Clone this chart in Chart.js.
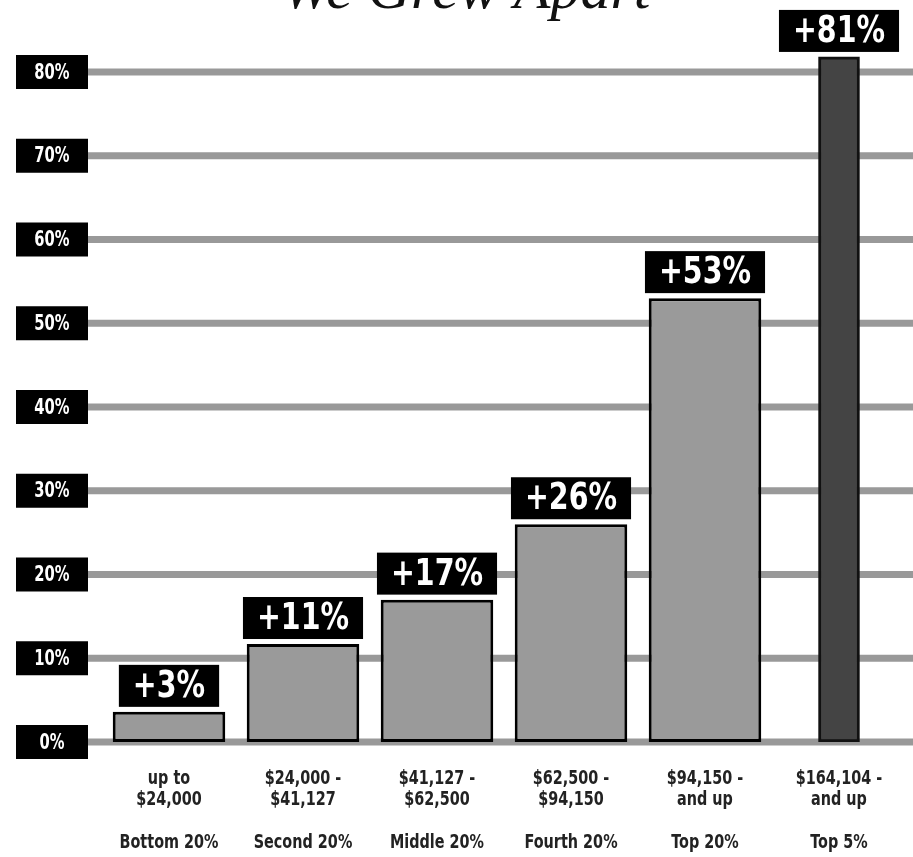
<!DOCTYPE html>
<html>
<head>
<meta charset="utf-8">
<script src="https://cdn.jsdelivr.net/npm/chart.js@4"></script>
<style>
  body { margin: 0; background: #fff; }
  #wrap { width: 913px; height: 857px; position: relative; }
</style>
</head>
<body>
<div id="wrap"><canvas id="barChartCanvas"></canvas></div>
<script>
let incomeRanges = [['up to', '$24,000'], ['$24,000 -', '$41,127'], ['$41,127 -', '$62,500'],
    ['$62,500 -', '$94,150'], ['$94,150 -', 'and up'], ['$164,104 -', 'and up']];
let groups = ['Bottom 20%', 'Second 20%', 'Middle 20%', 'Fourth 20%', 'Top 20%', 'Top 5%'];
// bar heights as drawn in the picture, and their printed labels
let quintileGrowth = [3.6, 11.7, 17, 26, 53, null];
let topFiveGrowth = [null, null, null, null, null, 81.8];
let growthLabels = ['+3%', '+11%', '+17%', '+26%', '+53%', '+81%'];
let yTicks = [0, 10, 20, 30, 40, 50, 60, 70, 80];

let sans = '"DejaVu Sans", sans-serif';

// squeeze text horizontally to get the condensed look
function narrowText(ctx, txt, x, y, sx) {
    ctx.save();
    ctx.translate(x, y);
    ctx.scale(sx, 1);
    ctx.fillText(txt, 0, 0);
    ctx.restore();
}

let decor = {
    id: 'decor',
    beforeDatasetsDraw(chart) {
        let ctx = chart.ctx;
        let y = chart.scales.y;
        ctx.save();
        ctx.textAlign = 'center';
        ctx.textBaseline = 'middle';
        yTicks.forEach(v => {
            let py = y.getPixelForValue(v);
            ctx.fillStyle = '#999999';
            ctx.fillRect(88, py - 3.5, chart.width - 88, 7);
            ctx.fillStyle = '#000';
            ctx.fillRect(16, py - 17, 72, 34);
            ctx.fillStyle = '#fff';
            ctx.font = 'bold 22px ' + sans;
            narrowText(ctx, v + '%', 52, py + 1, 0.67);
        });
        // title, cut off at the top
        ctx.fillStyle = '#111';
        ctx.font = 'italic 60px "Liberation Serif", serif';
        ctx.textBaseline = 'alphabetic';
        ctx.fillText('We Grew Apart', 466, 8);
        ctx.restore();
    },
    afterDatasetsDraw(chart) {
        let ctx = chart.ctx;
        let x = chart.scales.x;
        let y = chart.scales.y;
        ctx.save();
        ctx.textAlign = 'center';
        ctx.textBaseline = 'middle';
        groups.forEach((g, i) => {
            let v = quintileGrowth[i] != null ? quintileGrowth[i] : topFiveGrowth[i];
            let px = x.getPixelForValue(i);
            let top = y.getPixelForValue(v);
            let txt = growthLabels[i];
            ctx.font = 'bold 38px ' + sans;
            let w = ctx.measureText(txt).width * 0.75 + 28;
            ctx.fillStyle = '#000';
            ctx.fillRect(px - w / 2, top - 47, w, 42);
            ctx.fillStyle = '#fff';
            narrowText(ctx, txt, px, top - 25, 0.75);

            // x labels
            ctx.fillStyle = '#222';
            ctx.font = 'bold 20px ' + sans;
            narrowText(ctx, incomeRanges[i][0], px, 779, 0.72);
            narrowText(ctx, incomeRanges[i][1], px, 800, 0.72);
            narrowText(ctx, g, px, 843, 0.72);
        });
        ctx.restore();
    }
};

let barCtx = document.getElementById('barChartCanvas').getContext('2d');

let barChart = new Chart(barCtx, {
    type:'bar',
    data:{
        labels: groups,
        datasets:[{
            label:'Income growth',
            data: quintileGrowth,
            backgroundColor:'#9a9a9a',
            borderColor:'#000',
            borderWidth:3,
            borderSkipped:false,
            categoryPercentage:0.84,
            barPercentage:1
        }, {
            label:'Top 5%',
            data: topFiveGrowth,
            backgroundColor:'#444444',
            borderColor:'#111',
            borderWidth:3,
            borderSkipped:false,
            barThickness:41
        }]
    },
    plugins:[decor],
    options:{
        responsive: true,
        maintainAspectRatio: false,
        animation: false,
        datasets:{ bar:{ grouped:false } },
        layout:{ padding:{ left:102, right:7, top:5, bottom:115 } },
        scales:{
            x:{ display:false },
            y:{ display:false, min:0, max:88 }
        },
        plugins:{
            legend:{ display:false },
            tooltip:{ enabled:false }
        }
    }
});
</script>
</body>
</html>
